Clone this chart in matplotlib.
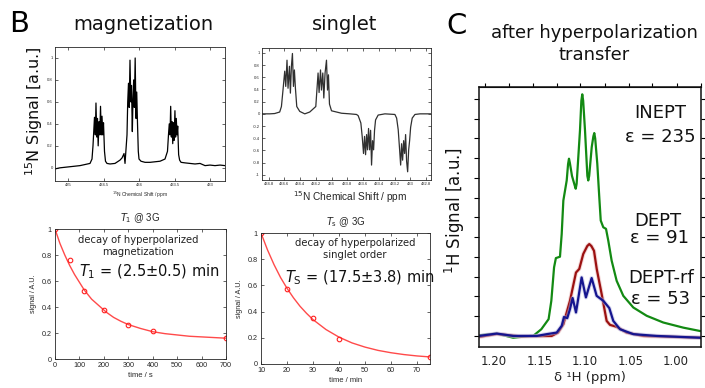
import matplotlib
matplotlib.use("Agg")
import matplotlib.pyplot as plt

# ---------------- data ----------------
# B, magnetization 15N spectrum
mag_ppm = [435.183, 435.113, 434.972, 434.831, 434.690, 434.662, 434.648, 434.627, 434.615, 434.606,
           434.594, 434.585, 434.575, 434.563, 434.552, 434.542, 434.531, 434.521, 434.510, 434.500,
           434.486, 434.472, 434.451, 434.408, 434.338, 434.268, 434.239, 434.211, 434.197, 434.183,
           434.169, 434.159, 434.148, 434.138, 434.127, 434.115, 434.106, 434.094, 434.085, 434.075,
           434.066, 434.054, 434.042, 434.032, 434.021, 434.010, 434.000, 433.972, 433.915, 433.845,
           433.704, 433.634, 433.599, 433.585, 433.574, 433.563, 433.554, 433.544, 433.535, 433.525,
           433.515, 433.506, 433.494, 433.485, 433.475, 433.465, 433.455, 433.442, 433.428, 433.408,
           433.352, 433.282, 433.211, 433.141, 433.070, 433.000, 432.930, 432.859, 432.789]
mag_sig = [-0.01, 0.0, 0.01, 0.02, 0.04, 0.08, 0.20, 0.46, 0.30, 0.59,
           0.28, 0.45, 0.20, 0.42, 0.30, 0.56, 0.30, 0.47, 0.30, 0.41,
           0.15, 0.06, 0.04, 0.035, 0.04, 0.07, 0.09, 0.13, 0.04, 0.17,
           0.30, 0.60, 0.77, 0.55, 0.98, 0.60, 0.75, 0.33, 0.62, 0.80,
           0.55, 1.00, 0.45, 0.69, 0.40, 0.15, 0.08, 0.06, 0.05, 0.05,
           0.06, 0.08, 0.15, 0.30, 0.40, 0.30, 0.56, 0.28, 0.42, 0.22,
           0.41, 0.25, 0.52, 0.28, 0.45, 0.30, 0.38, 0.12, 0.07, 0.05,
           0.045, 0.04, 0.035, 0.04, 0.02, 0.025, 0.02, 0.025, 0.02]
mag_xticks = [435, 434.5, 434, 433.5, 433]

# B, singlet 15N spectrum
sing_ppm = [434.885, 434.787, 434.724, 434.660, 434.638, 434.618, 434.596, 434.583, 434.567, 434.554,
            434.536, 434.524, 434.511, 434.498, 434.485, 434.473, 434.460, 434.443, 434.405, 434.341,
            434.278, 434.201, 434.172, 434.159, 434.141, 434.129, 434.112, 434.099, 434.083, 434.065,
            434.052, 434.040, 434.027, 434.001, 433.874, 433.768, 433.683, 433.662, 433.628, 433.611,
            433.594, 433.581, 433.568, 433.555, 433.543, 433.530, 433.517, 433.504, 433.492, 433.479,
            433.466, 433.454, 433.441, 433.408, 433.322, 433.195, 433.173, 433.153, 433.135, 433.122,
            433.110, 433.097, 433.084, 433.071, 433.059, 433.046, 433.033, 433.020, 433.008, 432.995,
            432.975, 432.940, 432.876, 432.736]
sing_sig = [0.0, 0.0, 0.005, 0.03, 0.12, 0.39, 0.70, 0.45, 0.88, 0.42,
            0.78, 0.34, 0.78, 0.99, 0.45, 0.72, 0.42, 0.12, 0.04, 0.0,
            0.03, 0.12, 0.67, 0.35, 0.72, 0.39, 0.67, 0.26, 0.67, 0.88,
            0.39, 0.64, 0.16, 0.05, 0.01, 0.0, -0.01, -0.03, -0.15, -0.37,
            -0.65, -0.37, -0.67, -0.34, -0.59, -0.24, -0.59, -0.27, -0.84, -0.44,
            -0.59, -0.27, -0.10, -0.02, 0.0, -0.01, -0.07, -0.26, -0.59, -0.84,
            -0.49, -0.76, -0.44, -0.65, -0.34, -0.78, -0.95, -0.59, -0.44, -0.22,
            -0.07, -0.01, 0.0, 0.0]
sing_xticks = [434.8, 434.6, 434.4, 434.2, 434.0, 433.8, 433.6, 433.4, 433.2, 433.0, 432.8]
sing_xlabels = ["434.8", "434.6", "434.4", "434.2", "434", "433.8", "433.6", "433.4", "433.2", "433", "432.8"]

# B, T1 decay (magnetization)
t1_time = [0, 60, 120, 200, 300, 400, 700]
t1_sig = [1.0, 0.76, 0.52, 0.375, 0.265, 0.215, 0.165]
t1_fit_time = [0, 20, 40, 60, 80, 100, 120, 150, 180, 210, 240, 270, 300, 350, 400, 450, 500, 550, 600, 650, 700]
t1_fit_sig = [1.0, 0.89, 0.80, 0.72, 0.65, 0.59, 0.53, 0.46, 0.41, 0.36, 0.32, 0.29, 0.265, 0.235, 0.21,
              0.195, 0.185, 0.175, 0.17, 0.165, 0.16]

# B, Ts decay (singlet)
ts_time = [10, 20, 30, 40, 75]
ts_sig = [1.0, 0.575, 0.35, 0.19, 0.05]
ts_fit_time = [10, 12.5, 15, 17.5, 20, 22.5, 25, 27.5, 30, 35, 40, 45, 50, 55, 60, 65, 70, 75]
ts_fit_sig = [1.0, 0.871, 0.759, 0.661, 0.578, 0.505, 0.441, 0.387, 0.339, 0.263, 0.205, 0.161,
              0.129, 0.104, 0.086, 0.072, 0.0615, 0.054]

# C, 1H spectra after transfer
inept_ppm = [1.2165, 1.197, 1.179, 1.160, 1.157, 1.148, 1.140, 1.137, 1.134, 1.132, 1.1275, 1.1256,
             1.1238, 1.1201, 1.1186, 1.1176, 1.1166, 1.1143, 1.1112, 1.1102, 1.1092, 1.1055, 1.1040,
             1.1030, 1.1020, 1.1000, 1.0974, 1.0964, 1.0954, 1.0926, 1.0908, 1.0898, 1.0888,
             1.0865, 1.0843, 1.0827, 1.0799, 1.0769, 1.0744, 1.0707, 1.0652, 1.0579, 1.0469, 1.0322,
             1.0140, 0.9920, 0.9736]
inept_sig = [0.03, 0.12, -0.09, 0.0, 0.0, 0.34, 0.85, 1.78, 3.47, 3.94, 4.01, 5.16,
             6.85, 7.87, 8.7, 8.97, 8.75, 8.1, 7.6, 7.45, 7.7, 10.41, 11.9,
             12.23, 11.9, 10.41, 8.1, 7.87, 8.1, 9.56, 10.1, 10.27, 10.0,
             8.72, 7.02, 5.84, 5.50, 5.42, 4.82, 3.81, 2.79, 2.03, 1.44, 1.02,
             0.68, 0.42, 0.25]
dept_ppm = [1.2165, 1.197, 1.1714, 1.1366, 1.1297, 1.1238, 1.1165, 1.1099, 1.1063, 1.1019, 1.0975, 1.0953,
            1.0930, 1.0901, 1.0871, 1.0817, 1.0762, 1.0725, 1.0652, 1.0542, 1.0359, 0.9736]
dept_sig = [-0.05, 0.1, -0.02, 0.0, 0.17, 0.59, 1.78, 3.21, 3.39, 4.15, 4.55, 4.65,
            4.55, 4.31, 3.39, 2.12, 0.76, 0.56, 0.46, 0.17, 0.0, -0.09]
deptrf_ppm = [1.2165, 1.197, 1.1788, 1.1531, 1.1421, 1.1311, 1.1256, 1.1231, 1.1195, 1.1165, 1.1136,
              1.1099, 1.1037, 1.0990, 1.0927, 1.0872, 1.0799, 1.0733, 1.0689, 1.0615, 1.0469, 1.0212,
              0.9736]
deptrf_sig = [0.0, 0.12, 0.0, 0.0, 0.09, 0.17, 0.51, 0.96, 0.90, 1.36, 1.92,
              1.19, 2.96, 1.95, 2.93, 2.03, 1.78, 1.41, 0.76, 0.34, 0.09, 0.0, -0.09]
c_xticks = [1.20, 1.15, 1.10, 1.05, 1.00]
c_top_ticks = [1.210, 1.184, 1.157, 1.131, 1.105, 1.078, 1.052, 1.026, 0.999, 0.973]
c_yticks = list(range(0, 13))

# ---------------- layout ----------------
W, H = 705, 388
fig = plt.figure(figsize=(W / 100, H / 100), dpi=100)


def rect(l, t, r, b):
    return [l / W, 1 - b / H, (r - l) / W, (b - t) / H]


def fx(px):
    return px / W


def fy(py):
    return 1 - py / H


MAT = "Liberation Sans"
GREY = "#262626"


def matlab_axes(ax, fs, pad=1.5):
    for s in ax.spines.values():
        s.set_color(GREY)
        s.set_linewidth(0.6)
    ax.tick_params(direction="in", top=True, right=True, labelsize=fs, colors=GREY,
                   length=2, width=0.5, pad=pad)
    for lab in ax.get_xticklabels() + ax.get_yticklabels():
        lab.set_family(MAT)


# ---- magnetization spectrum ----
ax1 = fig.add_axes(rect(55, 47, 225, 181))
ax1.plot(mag_ppm, mag_sig, color="black", lw=0.9)
ax1.set_xlim(435.183, 432.789)
ax1.set_ylim(-0.12, 1.1)
ax1.set_xticks(mag_xticks)
ax1.set_xticklabels(["435", "434.5", "434", "433.5", "433"])
ax1.set_yticks([0, 0.2, 0.4, 0.6, 0.8, 1.0])
ax1.set_yticklabels(["0", "0.2", "0.4", "0.6", "0.8", "1"])
matlab_axes(ax1, 3)
fig.text(fx(140), fy(195), "$^{15}$N Chemical Shift / ppm", fontsize=3.5, family=MAT,
         ha="center", va="center", color=GREY)

# ---- singlet spectrum ----
ax2 = fig.add_axes(rect(262, 48, 431, 180))
ax2.plot(sing_ppm, sing_sig, color="#303030", lw=0.9)
ax2.set_xlim(434.885, 432.736)
ax2.set_ylim(-1.085, 1.08)
ax2.set_xticks(sing_xticks)
ax2.set_xticklabels(sing_xlabels)
ax2.set_yticks([-1, -0.8, -0.6, -0.4, -0.2, 0, 0.2, 0.4, 0.6, 0.8, 1])
ax2.set_yticklabels(["-1", "-0.8", "-0.6", "-0.4", "-0.2", "0", "0.2", "0.4", "0.6", "0.8", "1"])
matlab_axes(ax2, 3)
fig.text(fx(350), fy(197), "$^{15}$N Chemical Shift / ppm", fontsize=7.3, family=MAT,
         ha="center", va="center", color=GREY)

# ---- T1 decay ----
ax3 = fig.add_axes(rect(55, 229, 226, 359))
ax3.plot(t1_fit_time, t1_fit_sig, color="#ff4a4a", lw=1.0)
ax3.plot(t1_time, t1_sig, "o", mfc="none", mec="#ff2020", ms=3.3, mew=0.8)
ax3.set_xlim(0, 700)
ax3.set_ylim(0, 1)
ax3.set_xticks(range(0, 701, 100))
ax3.set_yticks([0, 0.2, 0.4, 0.6, 0.8, 1.0])
ax3.set_yticklabels(["0", "0.2", "0.4", "0.6", "0.8", "1"])
matlab_axes(ax3, 5.2, pad=2.5)
ax3.set_xlabel("time / s", fontsize=5.5, family=MAT, color=GREY, labelpad=2)
ax3.set_ylabel("signal / A.U.", fontsize=5.2, family=MAT, color=GREY, labelpad=3)
ax3.set_title("$T_1$ @ 3G", fontsize=7, family=MAT, color=GREY, pad=6)
fig.text(fx(138), fy(240), "decay of hyperpolarized", fontsize=7.2, ha="center", va="center", color="#222222")
fig.text(fx(138), fy(252), "magnetization", fontsize=7.2, ha="center", va="center", color="#222222")
fig.text(fx(149), fy(272), "$T_1$ = (2.5±0.5) min", fontsize=10.5, ha="center", va="center", color="#111111")

# ---- Ts decay ----
ax4 = fig.add_axes(rect(261, 233, 430, 364))
ax4.plot(ts_fit_time, ts_fit_sig, color="#ff4a4a", lw=1.0)
ax4.plot(ts_time, ts_sig, "o", mfc="none", mec="#ff2020", ms=3.3, mew=0.8)
ax4.set_xlim(10, 75)
ax4.set_ylim(0, 1)
ax4.set_xticks(range(10, 71, 10))
ax4.set_yticks([0, 0.2, 0.4, 0.6, 0.8, 1.0])
ax4.set_yticklabels(["0", "0.2", "0.4", "0.6", "0.8", "1"])
matlab_axes(ax4, 5.2, pad=2.5)
ax4.set_xlabel("time / min", fontsize=5.5, family=MAT, color=GREY, labelpad=2)
ax4.set_ylabel("signal / A.U.", fontsize=5.2, family=MAT, color=GREY, labelpad=3)
ax4.set_title("$T_\\mathrm{s}$ @ 3G", fontsize=7, family=MAT, color=GREY, pad=6)
fig.text(fx(355), fy(243), "decay of hyperpolarized", fontsize=7.2, ha="center", va="center", color="#222222")
fig.text(fx(355), fy(255), "singlet order", fontsize=7.2, ha="center", va="center", color="#222222")
fig.text(fx(360), fy(278), "$T_\\mathrm{S}$ = (17.5±3.8) min", fontsize=10.5, ha="center", va="center",
         color="#111111")

# ---- panel B labels ----
fig.text(fx(19), fy(24), "B", fontsize=21, ha="center", va="center")
fig.text(fx(143), fy(25), "magnetization", fontsize=14, ha="center", va="center", color="#111111")
fig.text(fx(345), fy(25), "singlet", fontsize=14, ha="center", va="center", color="#111111")
fig.text(fx(34), fy(111), "$^{15}$N Signal [a.u.]", fontsize=11.5, rotation=90, ha="center", va="center",
         color="#111111")

# ---- panel C ----
ax5 = fig.add_axes(rect(479, 87, 701, 347))
ax5.plot(inept_ppm, inept_sig, color="#138a13", lw=1.6, solid_joinstyle="round")
ax5.plot(dept_ppm, dept_sig, color="#e8b0b0", lw=3.0, alpha=0.5)
ax5.plot(dept_ppm, dept_sig, color="#9b1111", lw=1.6, solid_joinstyle="round")
ax5.plot(deptrf_ppm, deptrf_sig, color="#b0b0e0", lw=3.0, alpha=0.5)
ax5.plot(deptrf_ppm, deptrf_sig, color="#15158f", lw=1.6, solid_joinstyle="round")
ax5.set_xlim(1.2165, 0.9725)
ax5.set_ylim(-0.56, 12.6)
ax5.set_xticks(c_xticks)
ax5.set_xticklabels(["1.20", "1.15", "1.10", "1.05", "1.00"])
ax5.set_yticks(c_yticks)
ax5.set_yticklabels([])
for s in ax5.spines.values():
    s.set_linewidth(1.1)
    s.set_color("#111111")
ax5.tick_params(axis="x", length=0, labelsize=8.5, pad=6, colors="#222222")
ax5.tick_params(axis="y", direction="out", left=True, right=True, length=3.5, width=0.8)
top = ax5.secondary_xaxis("top")
top.set_xticks(c_top_ticks)
top.set_xticklabels([])
top.tick_params(direction="out", length=3, width=0.8)
ax5.set_xlabel("δ ¹H (ppm)", fontsize=9.5, color="#222222", labelpad=2)

fig.text(fx(457), fy(26), "C", fontsize=21, ha="center", va="center")
fig.text(fx(594), fy(33), "after hyperpolarization", fontsize=13, ha="center", va="center", color="#111111")
fig.text(fx(594), fy(55), "transfer", fontsize=13, ha="center", va="center", color="#111111")
fig.text(fx(455), fy(210), "$^{1}$H Signal [a.u.]", fontsize=12, rotation=90, ha="center", va="center",
         color="#111111")

fig.text(fx(660), fy(113), "INEPT", fontsize=13, ha="center", va="center", color="#111111")
fig.text(fx(660), fy(137), "ε = 235", fontsize=13, ha="center", va="center", color="#111111")
fig.text(fx(658), fy(221), "DEPT", fontsize=13, ha="center", va="center", color="#111111")
fig.text(fx(660), fy(238), "ε = 91", fontsize=13, ha="center", va="center", color="#111111")
fig.text(fx(661), fy(278), "DEPT-rf", fontsize=13, ha="center", va="center", color="#111111")
fig.text(fx(661), fy(299), "ε = 53", fontsize=13, ha="center", va="center", color="#111111")

fig.savefig("out.png", dpi=100)
